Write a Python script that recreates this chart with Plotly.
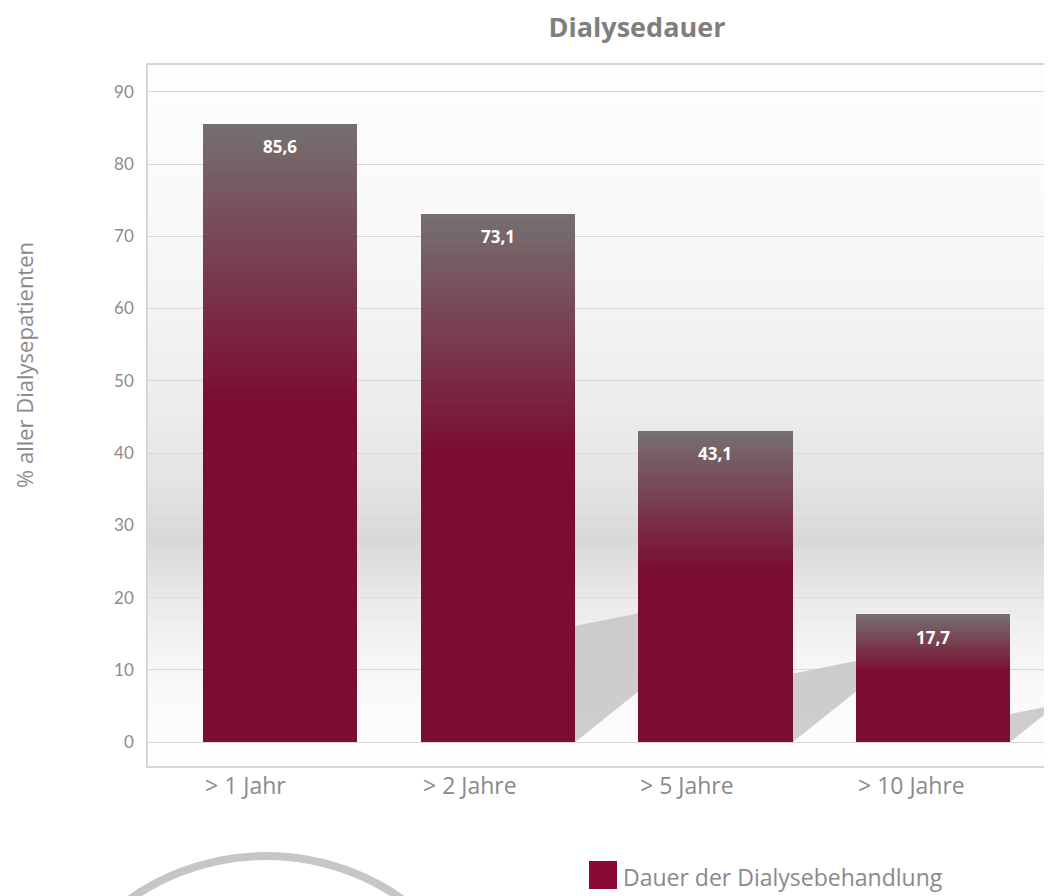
import plotly.graph_objects as go

# ---- data ----
categories = ["> 1 Jahr", "> 2 Jahre", "> 5 Jahre", "> 10 Jahre"]
values = [85.6, 73.1, 43.1, 17.7]
value_labels = ["85,6", "73,1", "43,1", "17,7"]
series_name = "Dauer der Dialysebehandlung"
y_ticks = [0, 10, 20, 30, 40, 50, 60, 70, 80, 90]
shadow_bars = [False, True, True, True]

# ---- styling ----
OFF = 8  # page body margin
PAGE_W, PAGE_H = 1052, 896
W, H = PAGE_W - OFF, PAGE_H - OFF
# plot area in page pixels
L_PX, R_PX, T_PX, B_PX = 148, 1052, 65, 766
X_RANGE = [-0.608, 3.548]
Y_RANGE = [-3.3, 93.7]
BAR_W = 0.71
RED = (123, 13, 48)
GRAY = (117, 112, 112)
GRAD_FRAC = 0.45
N_GRAD = 40
TXT = "#8a8a8a"

px_per_x = (R_PX - L_PX) / (X_RANGE[1] - X_RANGE[0])
px_per_y = (B_PX - T_PX) / (Y_RANGE[1] - Y_RANGE[0])


def px_to_paper_x(px):
    return (px - L_PX) / (R_PX - L_PX)


def px_to_paper_y(py):
    return (B_PX - py) / (B_PX - T_PX)


def rgb(c):
    return "rgb(%d,%d,%d)" % tuple(int(round(v)) for v in c)


def lerp(a, b, t):
    return tuple(a[i] + (b[i] - a[i]) * t for i in range(3))


xs = list(range(len(categories)))
fig = go.Figure()

# main bars (solid red)
fig.add_trace(go.Bar(
    x=xs, y=values, width=BAR_W, name=series_name,
    marker=dict(color=rgb(RED), line=dict(width=0)),
    showlegend=False, hovertemplate="%{customdata}: %{y}<extra></extra>",
    customdata=categories,
))

# gradient overlay on top part of each bar
for k in range(N_GRAD):
    t = (k + 0.5) / N_GRAD
    col = lerp(RED, GRAY, t)
    bases = [v * (1 - GRAD_FRAC) + v * GRAD_FRAC * k / N_GRAD for v in values]
    tops = [v * (1 - GRAD_FRAC) + v * GRAD_FRAC * (k + 1) / N_GRAD for v in values]
    heights = []
    for v, b, tp in zip(values, bases, tops):
        h = tp - b
        if k < N_GRAD - 1:
            h += v * GRAD_FRAC / N_GRAD * 0.6
        heights.append(h)
    fig.add_trace(go.Bar(
        x=xs, y=heights, base=bases, width=BAR_W,
        marker=dict(color=rgb(col), line=dict(width=0)),
        showlegend=False, hoverinfo="skip",
    ))

shapes = []

# plot background gradient (white -> grey band -> white)
profile = [(-3.3, 254), (0, 253), (5.8, 250), (12.7, 244), (19.7, 234),
           (25.2, 222), (28, 216), (36.3, 228), (47.4, 237), (61, 244),
           (82, 252), (93.7, 253)]
n_bands = 120
for i in range(n_bands):
    y0 = Y_RANGE[0] + (Y_RANGE[1] - Y_RANGE[0]) * i / n_bands
    y1 = Y_RANGE[0] + (Y_RANGE[1] - Y_RANGE[0]) * (i + 1) / n_bands
    ym = (y0 + y1) / 2
    g = profile[-1][1]
    for (a, ga), (b, gb) in zip(profile[:-1], profile[1:]):
        if a <= ym <= b:
            g = ga + (gb - ga) * (ym - a) / (b - a)
            break
    shapes.append(dict(type="rect", xref="paper", yref="y", x0=0, x1=1,
                       y0=y0, y1=y1 + 0.05, fillcolor=rgb((g, g, g)),
                       line=dict(width=0), layer="below"))

# bar shadows (decorative)
for i, (v, sh) in enumerate(zip(values, shadow_bars)):
    if not sh:
        continue
    hp = v * px_per_y
    Lp = 0.3 * hp
    xr = i + BAR_W / 2
    xe = xr + Lp / px_per_x
    p = [(xr, 0), (xr, 0.22 * hp / px_per_y),
         (xe, (0.22 * hp + 0.2 * Lp) / px_per_y), (xe, 0.8 * Lp / px_per_y)]
    path = "M %f,%f L %f,%f L %f,%f L %f,%f Z" % (p[0] + p[1] + p[2] + p[3])
    shapes.append(dict(type="path", xref="x", yref="y", path=path,
                       fillcolor="rgb(194,194,194)", opacity=0.8,
                       line=dict(width=0), layer="between"))

# legend swatch
shapes.append(dict(type="rect", xref="paper", yref="paper",
                   x0=px_to_paper_x(589), x1=px_to_paper_x(617),
                   y0=px_to_paper_y(889), y1=px_to_paper_y(861),
                   fillcolor="rgb(139,10,53)", line=dict(width=0)))

# decorative arc (bottom left)
cx, cy, r = 266, 1092, 236
shapes.append(dict(type="circle", xref="paper", yref="paper",
                   x0=px_to_paper_x(cx - r), x1=px_to_paper_x(cx + r),
                   y0=px_to_paper_y(cy + r), y1=px_to_paper_y(cy - r),
                   line=dict(color="rgb(198,198,198)", width=8),
                   fillcolor="rgba(0,0,0,0)"))

annotations = []
# value labels
for i, (v, lab) in enumerate(zip(values, value_labels)):
    annotations.append(dict(x=i, y=v, xref="x", yref="y", text="<b>%s</b>" % lab,
                            showarrow=False, yanchor="middle", yshift=-23,
                            font=dict(family="Open Sans", size=17, color="white")))
# category labels (left-aligned with bar)
for i, c in enumerate(categories):
    annotations.append(dict(x=i - BAR_W / 2, y=px_to_paper_y(785), xref="x", yref="paper",
                            text=c, showarrow=False, xanchor="left", yanchor="middle",
                            font=dict(family="Open Sans", size=23, color=TXT)))
# y-axis title
annotations.append(dict(x=px_to_paper_x(24), y=px_to_paper_y(365), xref="paper", yref="paper",
                        text="% aller Dialysepatienten", textangle=-90, showarrow=False,
                        xanchor="center", yanchor="middle", borderpad=0,
                        font=dict(family="Open Sans", size=22, color=TXT)))
# legend text
annotations.append(dict(x=px_to_paper_x(621), y=px_to_paper_y(877), xref="paper", yref="paper",
                        text=series_name, showarrow=False, xanchor="left", yanchor="middle",
                        font=dict(family="Open Sans", size=23, color=TXT)))

fig.update_layout(
    width=W, height=H,
    margin=dict(l=L_PX - OFF, r=PAGE_W - R_PX, t=T_PX - OFF, b=PAGE_H - B_PX, autoexpand=False),
    paper_bgcolor="white", plot_bgcolor="white",
    barmode="overlay", bargap=0,
    title=dict(text="<b>Dialysedauer</b>", x=(637 - OFF) / W, xref="container", xanchor="center",
               y=1 - (28 - OFF) / H, yref="container", yanchor="middle",
               font=dict(family="Open Sans", size=27, color="#7f7f7f")),
    xaxis=dict(range=X_RANGE, showticklabels=False, showgrid=False, zeroline=False,
               showline=True, mirror=True, linecolor="#d6d6d6", linewidth=1.5,
               ticks="", fixedrange=True),
    yaxis=dict(range=Y_RANGE, tickvals=y_ticks, ticktext=[str(t) for t in y_ticks],
               showgrid=True, gridcolor="#d8d8d8", gridwidth=1, zeroline=False,
               showline=True, mirror=False, linecolor="#d6d6d6", linewidth=1.5,
               ticks="", ticklabelstandoff=9,
               tickfont=dict(family="Lato", size=17, color="#8c8c8c"), fixedrange=True),
    shapes=shapes, annotations=annotations,
    showlegend=False,
)

fig.write_html("out.html")
